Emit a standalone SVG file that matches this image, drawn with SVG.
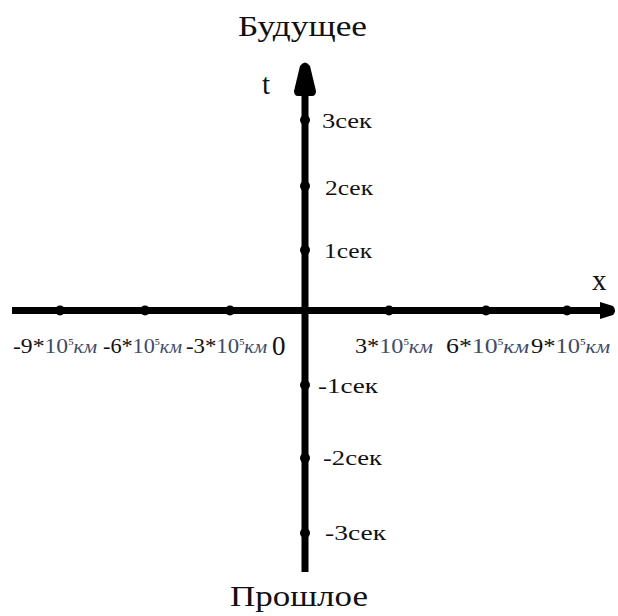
<svg xmlns="http://www.w3.org/2000/svg" width="618" height="616" viewBox="0 0 618 616">
<style>
.lbl{font-family:"Liberation Serif","Times New Roman",serif;font-size:20px;fill:#111}
.big{font-family:"Liberation Serif","Times New Roman",serif;font-size:29px;fill:#111}
.u{fill:#3e4c68}
.it{font-style:italic;font-size:18px}
.sup{font-size:9px}
.axis{stroke:#000;stroke-width:7;fill:none}
.tick{fill:#000}
</style>
<rect width="618" height="616" fill="#fff"/>
<g id="connectors">
<line class="axis" x1="12" y1="310.5" x2="602" y2="310.5"/>
<path d="M600,302 L613,306 Q617,310.5 613,315 L600,319 Z" fill="#000"/>
<line class="axis" x1="305" y1="92" x2="305" y2="572"/>
<path d="M300,66 Q305,59 310,66 L316,91 Q316,96 312,96 L298,96 Q294,96 294,91 Z" fill="#000"/>
</g>
<g id="ticks">
<circle class="tick" cx="60" cy="310.5" r="5"/>
<circle class="tick" cx="145" cy="310.5" r="5"/>
<circle class="tick" cx="230" cy="310.5" r="5"/>
<circle class="tick" cx="389" cy="310.5" r="5"/>
<circle class="tick" cx="486" cy="310.5" r="5"/>
<circle class="tick" cx="567" cy="310.5" r="5"/>
<circle class="tick" cx="305" cy="120" r="5"/>
<circle class="tick" cx="305" cy="186" r="5"/>
<circle class="tick" cx="305" cy="250" r="5"/>
<circle class="tick" cx="305" cy="385" r="5"/>
<circle class="tick" cx="305" cy="458" r="5"/>
<circle class="tick" cx="305" cy="533" r="5"/>
</g>
<g id="title-future"><text class="big" x="238" y="36" textLength="129" lengthAdjust="spacingAndGlyphs">Будущее</text></g>
<g id="title-past"><text class="big" x="230" y="606" textLength="138" lengthAdjust="spacingAndGlyphs">Прошлое</text></g>
<g id="axis-t-label"><text class="big" x="262" y="94">t</text></g>
<g id="axis-x-label"><text class="big" x="592" y="290">x</text></g>
<g id="x-labels">
<text class="lbl" x="13" y="353" textLength="84" lengthAdjust="spacingAndGlyphs">-9*<tspan class="u">10</tspan><tspan class="sup" dy="-8">5</tspan><tspan class="u it" dy="8">км</tspan></text>
<text class="lbl" x="103" y="353" textLength="79" lengthAdjust="spacingAndGlyphs">-6*<tspan class="u">10</tspan><tspan class="sup" dy="-8">5</tspan><tspan class="u it" dy="8">км</tspan></text>
<text class="lbl" x="186" y="353" textLength="81" lengthAdjust="spacingAndGlyphs">-3*<tspan class="u">10</tspan><tspan class="sup" dy="-8">5</tspan><tspan class="u it" dy="8">км</tspan></text>
<text class="big" x="272" y="355" style="font-size:27px">0</text>
<text class="lbl" x="355" y="353" textLength="78" lengthAdjust="spacingAndGlyphs">3*<tspan class="u">10</tspan><tspan class="sup" dy="-8">5</tspan><tspan class="u it" dy="8">км</tspan></text>
<text class="lbl" x="446" y="353" textLength="83" lengthAdjust="spacingAndGlyphs">6*<tspan class="u">10</tspan><tspan class="sup" dy="-8">5</tspan><tspan class="u it" dy="8">км</tspan></text>
<text class="lbl" x="531" y="353" textLength="79" lengthAdjust="spacingAndGlyphs">9*<tspan class="u">10</tspan><tspan class="sup" dy="-8">5</tspan><tspan class="u it" dy="8">км</tspan></text>
</g>
<g id="t-labels">
<text class="lbl" x="322" y="128" textLength="50" lengthAdjust="spacingAndGlyphs">3сек</text>
<text class="lbl" x="325" y="195" textLength="48" lengthAdjust="spacingAndGlyphs">2сек</text>
<text class="lbl" x="324" y="258" textLength="48" lengthAdjust="spacingAndGlyphs">1сек</text>
<text class="lbl" x="318" y="393" textLength="60" lengthAdjust="spacingAndGlyphs">-1сек</text>
<text class="lbl" x="323" y="465" textLength="59" lengthAdjust="spacingAndGlyphs">-2сек</text>
<text class="lbl" x="325" y="540" textLength="61" lengthAdjust="spacingAndGlyphs">-3сек</text>
</g>
</svg>
